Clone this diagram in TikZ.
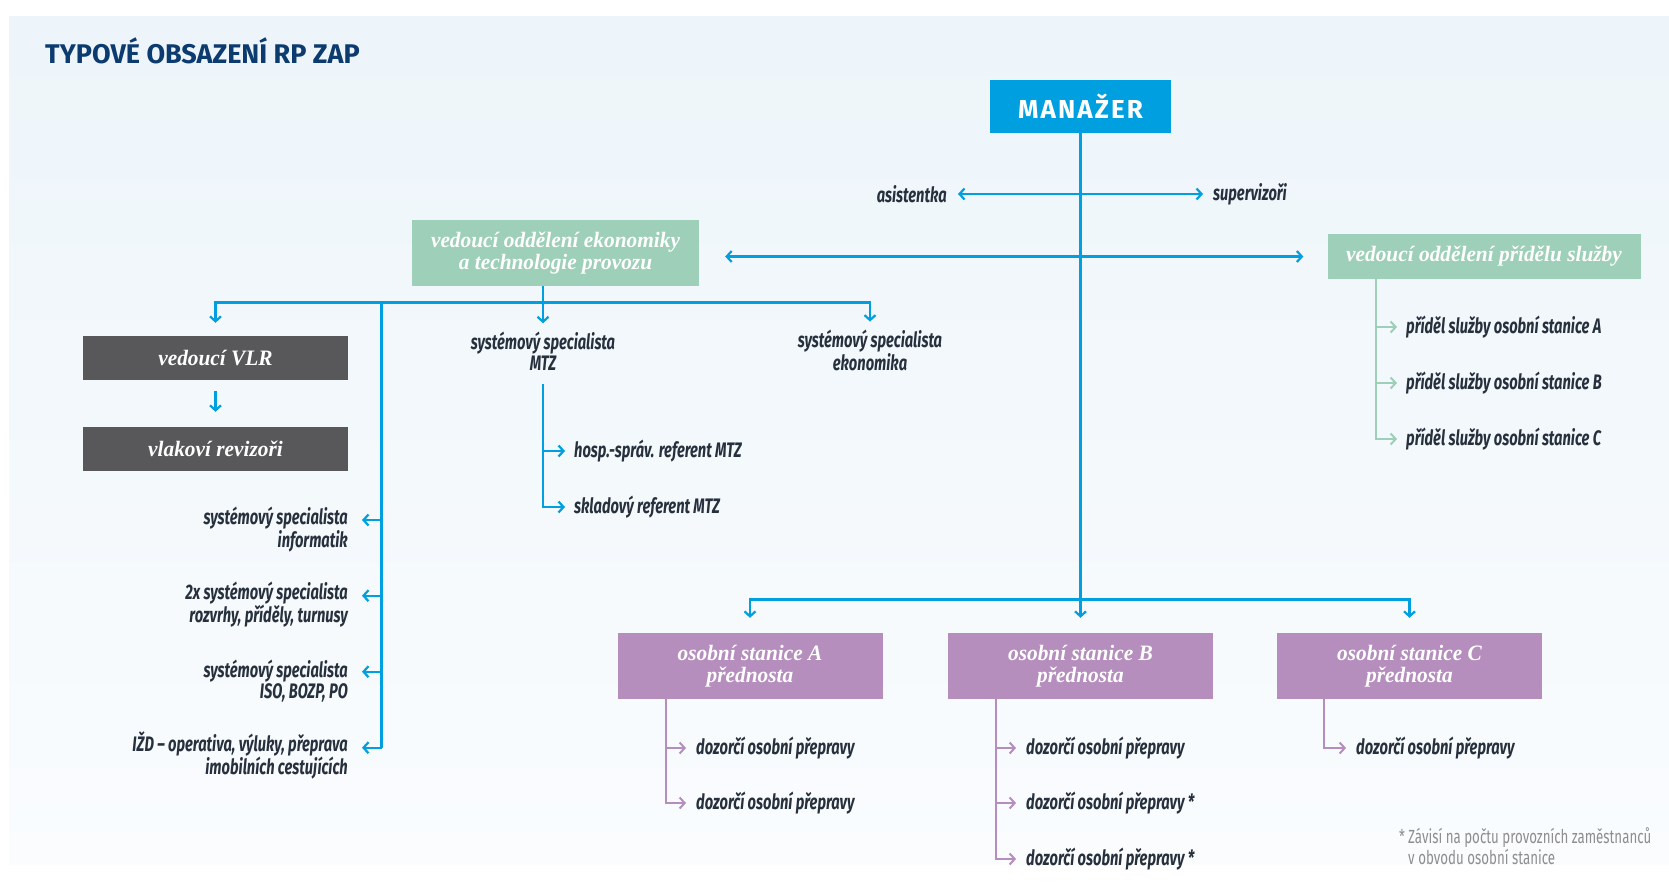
\documentclass[tikz,border=0pt]{standalone}
\usepackage{fontspec}
\setmainfont{Fira Sans}
\newfontfamily\condfont[FakeStretch=0.70]{Fira Sans}
\newfontfamily\boxfont[FakeStretch=0.97]{Liberation Serif}
\newfontfamily\headfont{Fira Sans}
\newfontfamily\manfont[LetterSpace=8]{Fira Sans}
\usetikzlibrary{arrows.meta,positioning,calc}

\definecolor{zapBlue}{HTML}{009FDF}
\definecolor{zapGreen}{HTML}{9ECFB8}
\definecolor{zapPurple}{HTML}{B58EBD}
\definecolor{zapGrey}{HTML}{58585A}
\definecolor{zapText}{HTML}{27303D}
\definecolor{zapTitle}{HTML}{0C3B6F}
\definecolor{zapNote}{HTML}{8E8E8E}
\definecolor{bgTop}{HTML}{EDF5FA}
\definecolor{bgBot}{HTML}{FAFCFE}

\begin{document}
\begin{tikzpicture}[x=1pt, y=-1pt, >={Straight Barb[length=5pt,width=11pt]},
    bline/.style={zapBlue, line width=2.2pt},
    gline/.style={zapGreen, line width=2pt},
    pline/.style={zapPurple, line width=2pt},
    box/.style={inner sep=0pt, text=white, align=center,
      font=\boxfont\bfseries\itshape\fontsize{22}{21.5}\selectfont},
    greybox/.style={box, fill=zapGrey, minimum width=265pt, minimum height=44pt},
    purplebox/.style={box, fill=zapPurple, minimum width=265pt, minimum height=66pt},
    lbl/.style={inner sep=0pt, text=zapText,
      font=\condfont\bfseries\itshape\fontsize{21}{21}\selectfont}]
    \useasboundingbox (0,0) rectangle (1669,889);
    % panel
    \shade[top color=bgTop, bottom color=bgBot] (9,16) rectangle (1669,864);
    \node[anchor=base west, inner sep=0pt, text=zapTitle,
      font=\headfont\bfseries\fontsize{27}{27}\selectfont] (title) at (45,63.5) {TYPOVÉ OBSAZENÍ RP ZAP};

    % manager and staff
    \node[box, fill=zapBlue, minimum width=181pt, minimum height=53pt,
      font=\manfont\bfseries\fontsize{26}{26}\selectfont] (man) at (1080.5,106.5) {MANAŽER};
    \node[lbl, anchor=east] (asist) at (947,194) {asistentka};
    \node[lbl, anchor=west] (superv) at (1213,194) {supervizoři};
    \draw[bline, <->, shorten <=11pt, shorten >=10pt] (asist) -- (superv);

    % departments
    \node[box, fill=zapGreen, minimum width=287pt, minimum height=66pt] (ekon) at (555.5,253)
      {vedoucí oddělení ekonomiky\\a technologie provozu};
    \node[box, fill=zapGreen, minimum width=313pt, minimum height=45pt] (pridel) at (1484,256.5)
      {vedoucí oddělení přídělu služby};
    \draw[bline, <->, shorten <=26pt, shorten >=24pt] (ekon.east |- pridel.west) -- (pridel.west);

    % economy branch
    \coordinate (ekbus) at (543,302.5);
    \coordinate (lbus) at (381.5,302.5);
    \node[greybox] (vlr) at (215.5,358) {vedoucí VLR};
    \node[greybox] (rev) at (215.5,449) {vlakoví revizoři};
    \node[lbl, align=center, anchor=base] (sysMTZ) at (543,370) {systémový specialista\\MTZ};
    \node[lbl, align=center, anchor=base] (sysEko) at (870,370) {systémový specialista\\ekonomika};
    \draw[bline, ->, shorten >=8pt] (ekon.south -| ekbus) -- (sysMTZ.north);
    \draw[bline, ->, shorten >=13pt] (ekbus) -| (vlr);
    \draw[bline, ->, shorten >=8pt] (ekbus) -| (sysEko);
    \draw[bline, ->, shorten <=11pt, shorten >=15pt] (vlr) -- (rev);

    % MTZ
    \coordinate (mtzTop) at (543,384);
    \node[lbl, anchor=west] (hosp) at (574,451) {hosp.-správ. referent MTZ};
    \node[lbl, anchor=west] (sklad) at (574,507) {skladový referent MTZ};
    \draw[bline, ->, shorten >=9pt] (mtzTop) |- (hosp);
    \draw[bline, ->, shorten >=9pt] (mtzTop) |- (sklad);

    % specialists on the left
    \coordinate (t1) at (362,520);
    \coordinate (t2) at (362,595.7);
    \coordinate (t3) at (362,671.7);
    \coordinate (t4) at (362,747.7);
    \node[lbl, align=right, anchor=base east] (s1) at (348,547) {systémový specialista\\informatik};
    \node[lbl, align=right, anchor=base east] (s2) at (348,622.7) {2x systémový specialista\\rozvrhy, příděly, turnusy};
    \node[lbl, align=right, anchor=base east] (s3) at (348,698.7) {systémový specialista\\ISO, BOZP, PO};
    \node[lbl, align=right, anchor=base east] (s4) at (348,774.7) {IŽD – operativa, výluky, přeprava\\imobilních cestujících};
    \draw[bline] (lbus) -- (lbus |- t4);
    \foreach \t in {t1,t2,t3,t4}
      \draw[bline, ->] (lbus |- \t) -- (\t);

    % duty allocation
    \coordinate (pTop) at (1376,279);
    \node[lbl, anchor=west] (p1) at (1406,327) {příděl služby osobní stanice A};
    \node[lbl, anchor=west] (p2) at (1406,383) {příděl služby osobní stanice B};
    \node[lbl, anchor=west] (p3) at (1406,439) {příděl služby osobní stanice C};
    \foreach \p in {p1,p2,p3}
      \draw[gline, ->, shorten >=9pt] (pTop) |- (\p);

    % stations
    \coordinate (busB) at (1080.5,599.5);
    \node[purplebox] (stA) at (750,666) {osobní stanice A\\přednosta};
    \node[purplebox] (stB) at (1080.5,666) {osobní stanice B\\přednosta};
    \node[purplebox] (stC) at (1409.5,666) {osobní stanice C\\přednosta};
    \draw[bline, ->, shorten >=15pt] (man) -- (stB);
    \draw[bline, ->, shorten >=15pt] (busB) -| (stA);
    \draw[bline, ->, shorten >=15pt] (busB) -| (stC);

    \coordinate (aTop) at (666,699);
    \coordinate (bTop) at (996,699);
    \coordinate (cTop) at (1324,699);
    \node[lbl, anchor=west] (a1) at (696,748) {dozorčí osobní přepravy};
    \node[lbl, anchor=west] (a2) at (696,803) {dozorčí osobní přepravy};
    \node[lbl, anchor=west] (b1) at (1026,748) {dozorčí osobní přepravy};
    \node[lbl, anchor=west] (b2) at (1026,803) {dozorčí osobní přepravy *};
    \node[lbl, anchor=west] (b3) at (1026,859) {dozorčí osobní přepravy *};
    \node[lbl, anchor=west] (c1) at (1356,748) {dozorčí osobní přepravy};
    \foreach \d in {a1,a2}
      \draw[pline, ->, shorten >=10pt] (aTop) |- (\d);
    \foreach \d in {b1,b2,b3}
      \draw[pline, ->, shorten >=10pt] (bTop) |- (\d);
    \draw[pline, ->, shorten >=10pt] (cTop) |- (c1);

    % footnote
    \node[inner sep=0pt, anchor=base west, align=left, text=zapNote,
      font=\condfont\fontsize{19}{21}\selectfont] (note) at (1408,864)
      {\llap{*\,}Závisí na počtu provozních zaměstnanců\\v obvodu osobní stanice};
\end{tikzpicture}
\end{document}
